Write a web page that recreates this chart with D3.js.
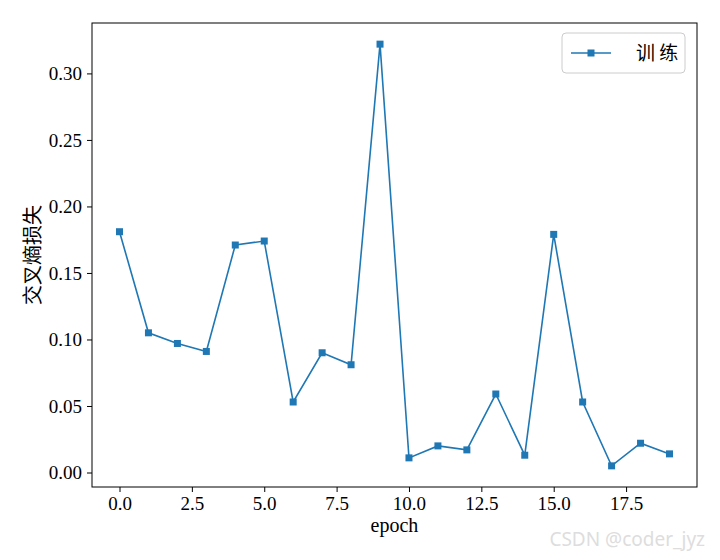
<!DOCTYPE html>
<html><head><meta charset="utf-8">
<script src="https://cdn.jsdelivr.net/npm/d3@7"></script>
<style>body{margin:0;background:#fff}</style>
</head><body><svg id="c" width="720" height="560"></svg>
<script>
const epochs = d3.range(20);
const loss = [0.181,0.105,0.097,0.091,0.171,0.174,0.053,0.090,0.081,0.322,0.011,0.020,0.017,0.059,0.013,0.179,0.053,0.005,0.022,0.014];
const xTicks = [0,2.5,5,7.5,10,12.5,15,17.5];
const yTicks = [0,0.05,0.1,0.15,0.2,0.25,0.3];
const seriesName = "训 练";
const color = "#1f77b4";
const svg = d3.select("#c");
const L=92,R=697,T=23,B=487;
const x = d3.scaleLinear().domain([-0.95,19.95]).range([L,R]);
const y = d3.scaleLinear().domain([-0.0109,0.3379]).range([B,T]);
const font = "'Liberation Serif', 'DejaVu Serif', serif";
const xa = svg.append("g").attr("transform",`translate(0,${B})`)
  .call(d3.axisBottom(x).tickValues(xTicks).tickFormat(d3.format(".1f")).tickSizeOuter(0).tickSize(5).tickPadding(5));
const ya = svg.append("g").attr("transform",`translate(${L},0)`)
  .call(d3.axisLeft(y).tickValues(yTicks).tickFormat(d3.format(".2f")).tickSizeOuter(0).tickSize(5).tickPadding(5));
[xa,ya].forEach(a=>{a.select(".domain").remove();a.selectAll("text").attr("font-family",font).attr("font-size",19).attr("fill","#000");a.selectAll("line").attr("stroke","#000");});
svg.append("rect").attr("x",L).attr("y",T).attr("width",R-L).attr("height",B-T).attr("fill","none").attr("stroke","#000");
const line = d3.line().x((d,i)=>x(epochs[i])).y(d=>y(d));
svg.append("path").datum(loss).attr("d",line).attr("fill","none").attr("stroke",color).attr("stroke-width",1.6);
svg.selectAll(".m").data(loss).join("rect").attr("x",(d,i)=>x(epochs[i])-3.5).attr("y",d=>y(d)-3.5).attr("width",7).attr("height",7).attr("fill",color);
svg.append("text").attr("x",(L+R)/2).attr("y",532).attr("text-anchor","middle").attr("font-family",font).attr("font-size",20).text("epoch");
svg.append("text").attr("transform",`translate(40,${(T+B)/2}) rotate(-90)`).attr("text-anchor","middle").attr("font-family","'Noto Sans CJK SC'").attr("font-size",20).text("交叉熵损失");
const lg = svg.append("g");
lg.append("rect").attr("x",562).attr("y",33).attr("width",123).attr("height",40).attr("rx",4).attr("fill","#fff").attr("stroke","#ccc");
lg.append("line").attr("x1",571).attr("x2",611).attr("y1",53).attr("y2",53).attr("stroke",color).attr("stroke-width",1.6);
lg.append("rect").attr("x",587.5).attr("y",49.5).attr("width",7).attr("height",7).attr("fill",color);
lg.append("text").attr("x",636).attr("y",60).attr("font-family","'Noto Sans CJK SC'").attr("font-size",19).text(seriesName);
svg.append("text").attr("x",705).attr("y",546).attr("text-anchor","end").attr("font-family","'Noto Sans', sans-serif").attr("font-size",19).attr("fill","#ddd").text("CSDN @coder_jyz");
</script></body></html>
